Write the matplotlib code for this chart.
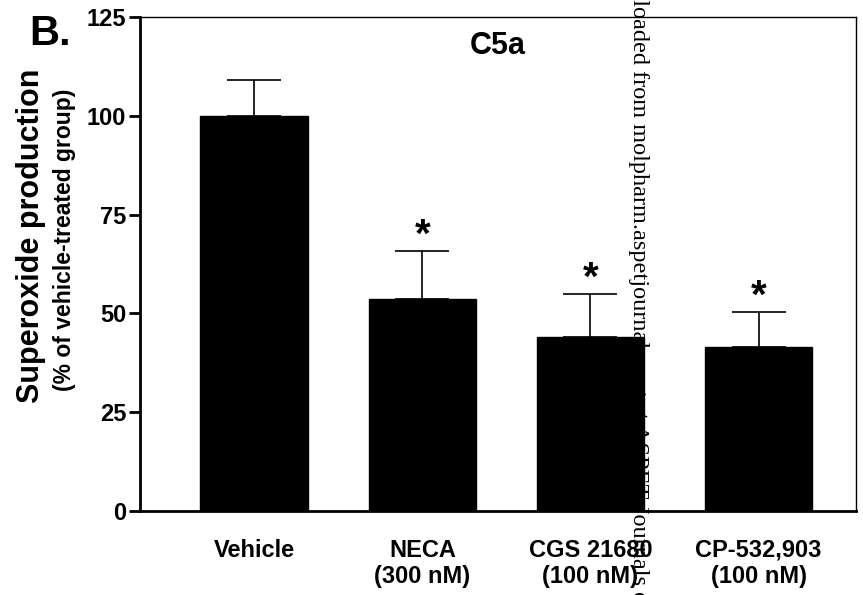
import matplotlib
matplotlib.use("Agg")
import matplotlib.pyplot as plt
import numpy as np

# superoxide production after C5a stimulation, % of vehicle
groups = ["Vehicle", "NECA\n(300 nM)", "CGS 21680\n(100 nM)", "CP-532,903\n(100 nM)"]
means = [100.0, 53.6, 44.1, 41.4]
sem = [9.1, 12.2, 10.7, 9.0]
signif = [False, True, True, True]
yticks = [0, 25, 50, 75, 100, 125]

SANS = "Liberation Sans"
plt.rcParams["font.family"] = [SANS, "DejaVu Sans"]

fig = plt.figure(figsize=(8.63, 5.95), dpi=100)
ax = fig.add_axes([0.1622, 0.1412, 0.8297, 0.8302])

x = np.arange(len(groups))
ax.bar(x, means, width=0.64, color="black", edgecolor="black", zorder=2)
ax.errorbar(x, means, yerr=[np.zeros(len(sem)), sem], fmt="none", ecolor="black",
            elinewidth=1.2, capsize=19.5, capthick=1.2, zorder=1)
for xi, m, s, sig in zip(x, means, sem, signif):
    if sig:
        ax.annotate("*", (xi, m + s), xytext=(0, 3), textcoords="offset points",
                    ha="center", va="baseline", fontsize=29, fontweight="bold")

ax.set_xlim(-0.68, 3.58)
ax.set_ylim(0, 125)
ax.set_yticks(yticks)
ax.set_xticks(x)
ax.set_xticklabels(groups, fontsize=17, fontweight="bold", linespacing=1.2)
ax.tick_params(axis="x", length=0, pad=20)
ax.tick_params(axis="y", direction="out", length=8, width=2, labelsize=17, pad=2)
for lab in ax.get_yticklabels():
    lab.set_fontweight("bold")
for side in ["left", "bottom"]:
    ax.spines[side].set_linewidth(2)
for side in ["top", "right"]:
    ax.spines[side].set_linewidth(1)

ax.text(0.5, 0.942, "C5a", transform=ax.transAxes, ha="center", va="center",
        fontsize=22, fontweight="bold")

fig.text(31 / 863, 1 - 236 / 595, "Superoxide production", rotation=90,
         ha="center", va="center", fontsize=22, fontweight="bold")
fig.text(65 / 863, 1 - 240 / 595, "(% of vehicle-treated group)", rotation=90,
         ha="center", va="center", fontsize=16.5, fontweight="bold")
fig.text(50 / 863, 1 - 34 / 595, "B.", ha="center", va="center",
         fontsize=30, fontweight="bold")

# journal download stamp running down the page
fig.text(638 / 863, 1.1, "Downloaded from molpharm.aspetjournals.org at ASPET Journals on April 19, 2024",
         rotation=-90, ha="center", va="top", fontsize=17.5, family="Liberation Serif",
         zorder=5)

fig.savefig("out.png", dpi=100)
